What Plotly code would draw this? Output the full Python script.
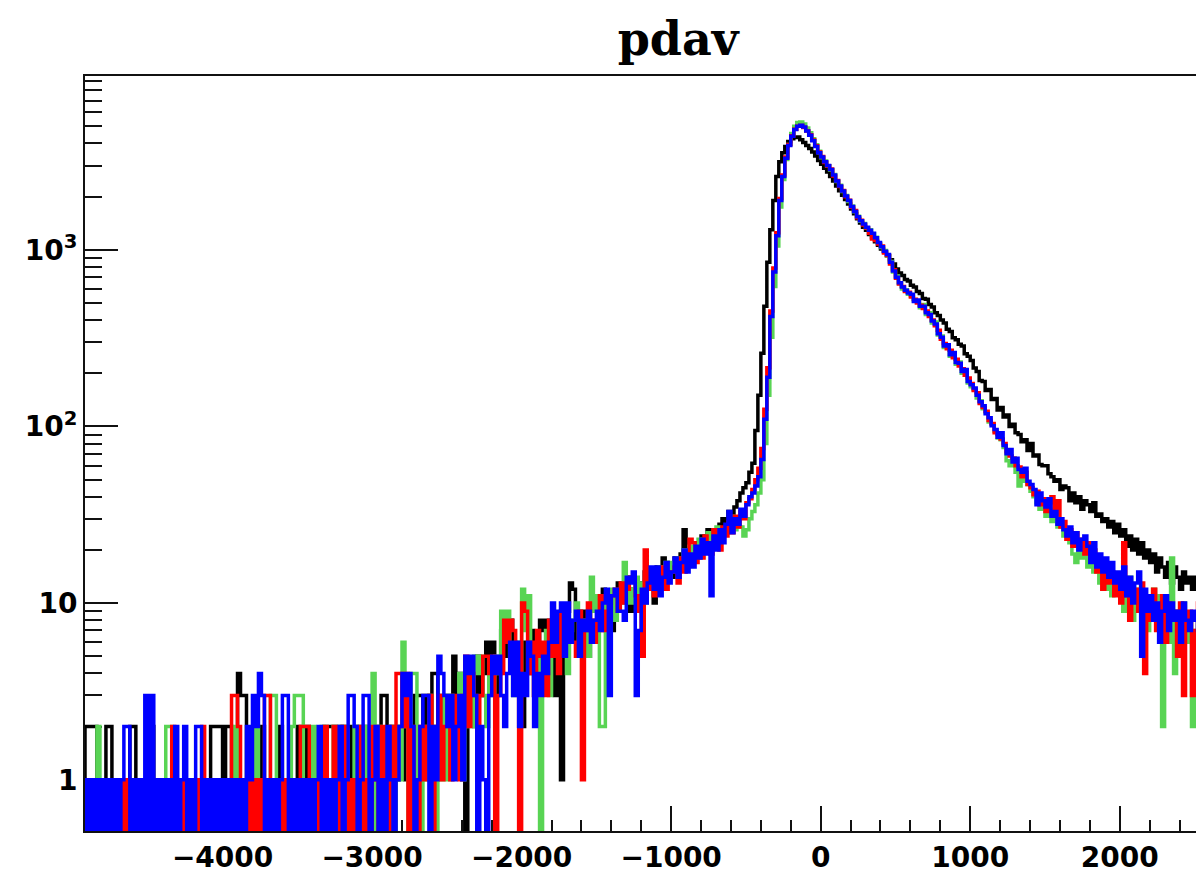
import numpy as np
import plotly.graph_objects as go

# Histogram binning: 380 bins of width 20 starting at -5000
BIN_START = -5000
BIN_WIDTH = 20

black = [
    1, 0, 1, 0, 2, 2, 2, 2, 0, 1, 0, 2, 2, 0, 1, 0, 1, 0, 1, 2, 2, 0, 1, 0, 1,
    1, 2, 0, 1, 0, 1, 0, 1, 0, 1, 0, 1, 0, 1, 0, 1, 0, 1, 0, 1, 0, 2, 2, 2, 2,
    0, 2, 2, 1, 0, 4, 3, 3, 1, 0, 1, 0, 1, 2, 0, 1, 0, 1, 0, 2, 1, 0, 1, 0, 1,
    2, 0, 1, 2, 0, 1, 0, 1, 1, 2, 2, 2, 2, 2, 2, 2, 2, 2, 0, 1, 2, 1, 0, 2, 1,
    0, 2, 1, 3, 3, 1, 2, 0, 1, 2, 2, 1, 2, 0, 3, 3, 3, 2, 3, 1, 4, 4, 2, 3, 2,
    3, 2, 5, 3, 4, 2, 0, 3, 4, 2, 5, 3, 4, 6, 5, 6, 3, 4, 7, 8, 5, 8, 6, 4, 5,
    2, 6, 4, 7, 3, 5, 8, 7, 8, 4, 6, 3, 7, 1, 5, 9, 13, 12, 6, 8, 9, 7, 5, 10, 11,
    10, 8, 12, 9, 11, 7, 10, 13, 12, 11, 14, 9, 12, 10, 13, 11, 15, 12, 14, 10, 16, 13, 18, 17, 15,
    14, 18, 16, 19, 26, 17, 20, 18, 22, 19, 24, 21, 26, 23, 25, 22, 28, 30, 26, 33, 29, 35, 38, 42, 45,
    48, 55, 62, 95, 150, 260, 480, 850, 1300, 1900, 2600, 3150, 3550, 3850, 4100,
    4250, 4330, 4350, 4200, 4050, 3900, 3750, 3580, 3400, 3200,
    3050, 2900, 2760, 2600, 2450, 2300, 2160, 2040, 1930, 1820, 1700, 1600, 1500,
    1420, 1340, 1290, 1220, 1170, 1110, 1060, 1010, 975, 930, 880, 830,
    780, 740, 715, 680, 665, 630, 615, 580, 565, 530, 525, 490, 475, 440, 425,
    400, 385, 355, 345, 318, 310, 292, 285, 258, 250,
    236, 214, 205, 182, 180, 160, 162, 142, 144, 124, 128, 113, 116, 100, 103,
    92, 90, 82, 84, 73, 80, 68, 69, 61, 60,
    60, 54, 52, 49, 50, 44, 46, 45, 38, 42, 37, 40, 34, 38, 36, 33, 37, 31, 32, 29, 30, 27, 29, 25, 28,
    24, 26, 21, 24, 20, 23, 19, 22, 18, 20, 17, 19, 15, 18, 16, 14, 17, 13, 16, 14, 12, 15, 13, 14, 12,
    14, 12, 13, 11, 12,
]

green = [
    0, 1, 0, 1, 0, 1, 0, 1, 2, 0, 1, 0, 1, 0, 1, 0, 1, 0, 1, 0, 1, 0, 1, 0, 1,
    0, 1, 0, 1, 0, 1, 2, 2, 0, 1, 0, 1, 0, 1, 0, 1, 0, 1, 0, 1, 0, 1, 0, 1, 0,
    1, 0, 1, 0, 2, 1, 0, 1, 0, 1, 0, 2, 1, 0, 1, 0, 3, 3, 1, 0, 1, 0, 1, 2, 3,
    3, 3, 0, 1, 0, 2, 1, 0, 2, 0, 1, 0, 2, 1, 0, 2, 1, 0, 1, 2, 0, 1, 2, 0, 1,
    4, 0, 2, 1, 0, 1, 2, 0, 2, 1, 6, 2, 0, 4, 4, 1, 0, 2, 1, 3, 2, 0, 2, 1, 3,
    1, 3, 2, 2, 4, 1, 3, 2, 2, 5, 4, 5, 3, 2, 4, 3, 5, 4, 9, 7, 9, 5, 3, 6, 4,
    12, 7, 11, 5, 4, 6, 0, 5, 7, 3, 6, 8, 5, 7, 9, 4, 7, 8, 10, 6, 8, 7, 5, 14, 9,
    11, 2, 2, 10, 9, 12, 8, 11, 10, 17, 13, 10, 12, 14, 11, 13, 10, 15, 12, 14, 13, 16, 12, 17, 14,
    17, 15, 18, 16, 20, 17, 21, 19, 18, 23, 20, 22, 25, 21, 24, 27, 23, 26, 25, 28, 31, 26, 29, 27, 24,
    26, 30, 33, 36, 42, 50, 80, 150, 320, 620, 1050, 1750, 2500, 3250, 3950,
    4550, 5000, 5250, 5300, 5150, 4900, 4600, 4250, 3930, 3620,
    3320, 3180, 2990, 2830, 2670, 2440, 2320, 2140, 2030, 1880, 1770, 1640, 1550,
    1450, 1410, 1330, 1300, 1230, 1180, 1090, 1030, 990, 920, 860, 750,
    710, 645, 600, 595, 560, 550, 515, 510, 470, 490, 430, 440, 385, 390, 330,
    325, 280, 285, 250, 258, 225, 232, 200, 205, 176,
    168, 162, 145, 140, 126, 120, 106, 103, 94, 86, 84, 76, 64, 60, 66,
    55, 46, 52, 49, 47, 43, 40, 37, 34, 36,
    31, 34, 29, 31, 27, 28, 24, 25, 22, 19, 17, 21, 18, 20, 16, 18, 15, 17, 13, 16, 12, 15, 11, 14, 12,
    13, 9, 12, 14, 8, 11, 12, 9, 11, 7, 10, 12, 8, 11, 2, 8, 6, 18, 4, 9, 7, 10, 6, 8, 2,
    7, 9, 5, 8, 6,
]

red = [
    0, 1, 0, 1, 0, 1, 0, 1, 0, 1, 0, 1, 0, 0, 1, 0, 1, 0, 1, 0, 1, 0, 1, 0, 1,
    0, 1, 0, 1, 0, 1, 0, 1, 2, 0, 1, 0, 1, 0, 1, 0, 1, 0, 2, 0, 1, 0, 1, 0, 1,
    0, 1, 0, 3, 3, 2, 0, 1, 0, 1, 0, 1, 0, 1, 3, 3, 0, 1, 0, 1, 0, 1, 0, 1, 0,
    1, 2, 2, 2, 0, 1, 0, 1, 0, 2, 1, 0, 2, 1, 0, 2, 1, 0, 1, 0, 1, 2, 0, 1, 0,
    2, 1, 0, 2, 1, 0, 2, 1, 4, 4, 2, 4, 0, 2, 1, 0, 2, 1, 2, 3, 0, 2, 3, 1, 2,
    2, 1, 3, 2, 1, 3, 5, 2, 4, 3, 1, 3, 5, 5, 4, 5, 0, 3, 4, 8, 6, 8, 7, 5, 0,
    10, 9, 4, 6, 3, 7, 5, 6, 3, 8, 5, 7, 4, 9, 6, 8, 6, 6, 5, 9, 1, 7, 10, 8, 6,
    8, 11, 7, 9, 10, 11, 12, 9, 13, 10, 12, 14, 14, 11, 9, 5, 20, 12, 14, 11, 15, 13, 16, 12, 15,
    15, 16, 13, 18, 15, 19, 23, 22, 17, 20, 18, 24, 21, 19, 26, 22, 20, 27, 24, 29, 25, 31, 27, 33, 30,
    37, 39, 44, 50, 58, 75, 125, 215, 450, 790, 1250, 1950, 2650, 3350, 3950,
    4420, 4820, 5000, 5050, 4920, 4700, 4480, 4180, 3880, 3580,
    3380, 3120, 2980, 2870, 2620, 2470, 2280, 2170, 2000, 1910, 1740, 1670, 1520,
    1470, 1380, 1330, 1240, 1150, 1130, 1080, 1050, 960, 930, 830, 770,
    690, 640, 620, 580, 575, 540, 525, 500, 485, 465, 450, 420, 400, 372, 350,
    312, 295, 275, 270, 245, 240, 220, 212, 195, 188,
    175, 160, 155, 135, 128, 122, 108, 104, 92, 90, 85, 80, 72, 68, 66,
    60, 59, 52, 55, 47, 45, 41, 43, 36, 39,
    33, 37, 40, 32, 38, 27, 29, 23, 26, 21, 25, 21, 23, 19, 22, 18, 20, 15, 17, 12, 16, 13, 15, 11, 14,
    10, 22, 11, 8, 12, 12, 9, 13, 4, 10, 8, 12, 7, 9, 11, 6, 10, 8, 9, 5, 10, 3, 8, 9, 3,
    7, 10, 6, 8, 7,
]

blue = [
    1, 0, 1, 0, 1, 0, 1, 0, 1, 0, 1, 0, 1, 0, 1, 0, 1, 2, 2, 0, 1, 0, 1, 0, 3,
    0, 3, 0, 1, 0, 1, 0, 1, 0, 2, 0, 1, 2, 0, 1, 0, 2, 2, 0, 1, 0, 1, 0, 1, 0,
    1, 0, 1, 0, 1, 0, 1, 0, 2, 1, 3, 2, 4, 3, 0, 1, 0, 1, 0, 1, 3, 3, 0, 1, 0,
    1, 0, 1, 0, 1, 0, 1, 2, 0, 1, 0, 1, 0, 1, 2, 0, 1, 3, 3, 2, 0, 1, 3, 3, 0,
    1, 2, 0, 1, 0, 2, 1, 0, 1, 2, 4, 3, 4, 2, 0, 1, 2, 3, 3, 0, 2, 1, 5, 4, 3,
    2, 3, 1, 2, 3, 1, 5, 4, 5, 3, 0, 2, 1, 0, 3, 5, 4, 5, 3, 2, 4, 6, 3, 6, 2,
    4, 3, 6, 5, 2, 4, 3, 5, 4, 6, 10, 6, 9, 10, 5, 10, 6, 8, 9, 5, 8, 7, 9, 6, 8,
    9, 7, 10, 12, 3, 11, 12, 9, 9, 8, 14, 13, 15, 3, 7, 12, 10, 13, 16, 12, 16, 11, 14, 17, 13,
    15, 18, 14, 17, 20, 15, 19, 16, 21, 18, 23, 19, 22, 11, 24, 20, 26, 22, 28, 33, 25, 30, 28, 34, 31,
    36, 40, 42, 46, 52, 65, 110, 190, 420, 750, 1200, 1900, 2600, 3300, 3900,
    4400, 4800, 5000, 5080, 4950, 4700, 4450, 4150, 3850, 3550,
    3350, 3150, 3000, 2850, 2650, 2450, 2300, 2150, 2020, 1900, 1760, 1650, 1540,
    1460, 1400, 1340, 1290, 1240, 1170, 1100, 1040, 980, 940, 850, 760,
    700, 650, 615, 590, 570, 560, 510, 520, 480, 480, 440, 430, 395, 380, 335,
    320, 285, 290, 255, 262, 230, 228, 205, 210, 180,
    172, 165, 150, 138, 131, 118, 112, 101, 96, 87, 92, 78, 70, 74, 63,
    66, 57, 55, 58, 49, 47, 44, 36, 42, 38,
    35, 39, 31, 33, 28, 30, 26, 24, 27, 22, 25, 20, 23, 24, 21, 17, 22, 16, 19, 15, 18, 14, 17, 13, 15,
    12, 16, 11, 14, 10, 13, 15, 5, 12, 9, 11, 8, 10, 6, 9, 11, 7, 10, 8, 9, 6, 10, 8, 7, 9,
    8, 7, 9, 6, 8,
]

series = [
    ("black", black, "#000000"),
    ("green", green, "#59d454"),
    ("red", red, "#ff0000"),
    ("blue", blue, "#0000ff"),
]

X_RANGE = [-4920, 2510]
Y_LOG_RANGE = [-0.29, 3.984]
# empty bins are drawn along the bottom of the frame, as ROOT does on a log scale
y_floor = 10 ** (Y_LOG_RANGE[0] + 0.006)

fig = go.Figure()
for name, counts, color in series:
    c = np.asarray(counts, dtype=float)
    edges = BIN_START + BIN_WIDTH * np.arange(len(c) + 1)
    y = np.where(c > 0, c, y_floor)
    y = np.append(y, y[-1])
    fig.add_trace(go.Scatter(
        x=edges, y=y, mode="lines", name=name,
        line=dict(color=color, width=3.5, shape="hv"),
        hoverinfo="skip",
    ))

major_y = [1, 10, 100, 1000]
minor_y = [m * 10 ** k for k in range(-1, 4) for m in range(2, 10)
           if 10 ** Y_LOG_RANGE[0] < m * 10 ** k < 10 ** Y_LOG_RANGE[1]]

tick_font = dict(family="DejaVu Sans", size=28, color="#000000", weight="bold")

fig.update_layout(
    width=1196, height=874,
    margin=dict(l=85, r=0, t=76, b=41, pad=0),
    paper_bgcolor="white", plot_bgcolor="white",
    showlegend=False,
    title=dict(
        text="<b>pdav</b>",
        font=dict(family="DejaVu Serif", size=46, color="#000000"),
        x=0.567, xref="container", xanchor="center",
        y=0.955, yref="container", yanchor="middle",
    ),
    xaxis=dict(
        range=X_RANGE, showgrid=False, zeroline=False,
        showline=True, linecolor="#111111", linewidth=2, mirror=True,
        ticks="inside", ticklen=25, tickwidth=1.5, tickcolor="#111111",
        tick0=0, dtick=1000, tickfont=tick_font,
        minor=dict(ticks="inside", ticklen=11, tickwidth=1.5, tickcolor="#111111",
                   tick0=0, dtick=200, showgrid=False),
        layer="below traces",
    ),
    yaxis=dict(
        type="log", range=Y_LOG_RANGE, showgrid=False, zeroline=False,
        showline=True, linecolor="#111111", linewidth=2,
        ticks="inside", ticklen=33, tickwidth=1.5, tickcolor="#111111",
        tickmode="array", tickvals=major_y,
        ticktext=["1", "10", "10<sup>2</sup>", "10<sup>3</sup>"],
        tickfont=tick_font,
        minor=dict(ticks="inside", ticklen=17, tickwidth=1.5, tickcolor="#111111",
                   tickmode="array", tickvals=minor_y, showgrid=False),
        layer="below traces",
    ),
)

fig.write_html("out.html")
